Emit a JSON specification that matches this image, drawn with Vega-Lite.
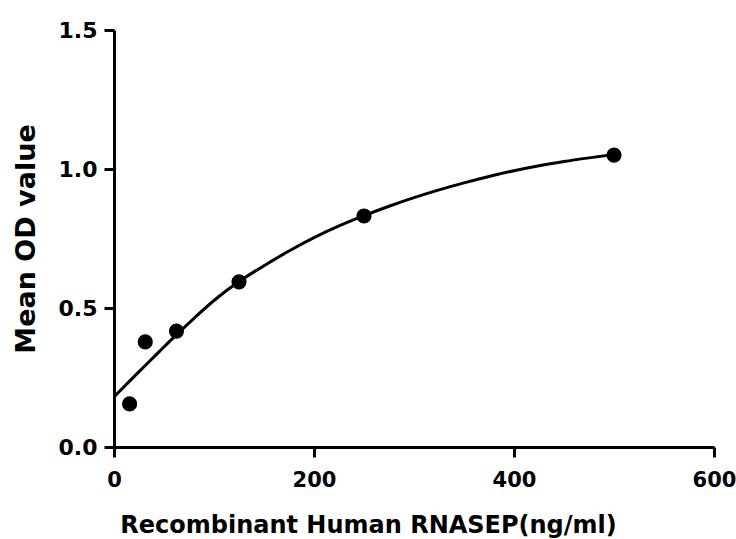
{
  "$schema": "https://vega.github.io/schema/vega-lite/v6.json",
  "autosize": "none",
  "width": 600,
  "height": 417,
  "padding": {"left": 114, "top": 30, "right": 22, "bottom": 92},
  "background": "white",
  "config": {
    "view": {"stroke": null},
    "axis": {
      "grid": false,
      "domainColor": "black",
      "domainWidth": 3,
      "tickColor": "black",
      "tickWidth": 3,
      "tickSize": 10,
      "labelFont": "DejaVu Sans",
      "labelFontWeight": "bold",
      "labelColor": "black",
      "titleFont": "DejaVu Sans",
      "titleFontWeight": "bold",
      "titleColor": "black"
    }
  },
  "datasets": {
    "points": [
      {"conc": 15.6, "od": 0.155},
      {"conc": 31.25, "od": 0.378},
      {"conc": 62.5, "od": 0.417},
      {"conc": 125, "od": 0.594},
      {"conc": 250, "od": 0.831},
      {"conc": 500, "od": 1.05}
    ],
    "curve": [
      {"conc": 0, "od": 0.18},
      {"conc": 15.6, "od": 0.237},
      {"conc": 31.25, "od": 0.293},
      {"conc": 45, "od": 0.342},
      {"conc": 62.5, "od": 0.404},
      {"conc": 80, "od": 0.463},
      {"conc": 100, "od": 0.527},
      {"conc": 125, "od": 0.595},
      {"conc": 150, "od": 0.652},
      {"conc": 175, "od": 0.705},
      {"conc": 200, "od": 0.753},
      {"conc": 225, "od": 0.795},
      {"conc": 250, "od": 0.832},
      {"conc": 275, "od": 0.866},
      {"conc": 300, "od": 0.897},
      {"conc": 325, "od": 0.925},
      {"conc": 350, "od": 0.95},
      {"conc": 375, "od": 0.973},
      {"conc": 400, "od": 0.994},
      {"conc": 425, "od": 1.012},
      {"conc": 450, "od": 1.027},
      {"conc": 475, "od": 1.04},
      {"conc": 500, "od": 1.052}
    ]
  },
  "layer": [
    {
      "data": {"name": "curve"},
      "mark": {"type": "line", "color": "black", "strokeWidth": 3, "interpolate": "monotone"},
      "encoding": {
        "x": {
          "field": "conc", "type": "quantitative",
          "scale": {"domain": [0, 600], "nice": false},
          "axis": {
            "values": [0, 200, 400, 600], "format": "d",
            "title": "Recombinant Human RNASEP(ng/ml)",
            "titleFontSize": 24,
            "titleX": 254, "titleY": 85, "titleBaseline": "alphabetic",
            "labelFontSize": 21,
            "labelPadding": 12, "labelFlush": false
          }
        },
        "y": {
          "field": "od", "type": "quantitative",
          "scale": {"domain": [0, 1.5], "nice": false},
          "axis": {
            "values": [0, 0.5, 1.0, 1.5], "format": ".1f",
            "title": "Mean OD value",
            "titleFontSize": 27,
            "titlePadding": 18,
            "labelFontSize": 22,
            "labelPadding": 7
          }
        }
      }
    },
    {
      "data": {"name": "points"},
      "mark": {"type": "point", "shape": "circle", "filled": true, "color": "black", "size": 230, "opacity": 1},
      "encoding": {
        "x": {"field": "conc", "type": "quantitative"},
        "y": {"field": "od", "type": "quantitative"}
      }
    }
  ]
}
